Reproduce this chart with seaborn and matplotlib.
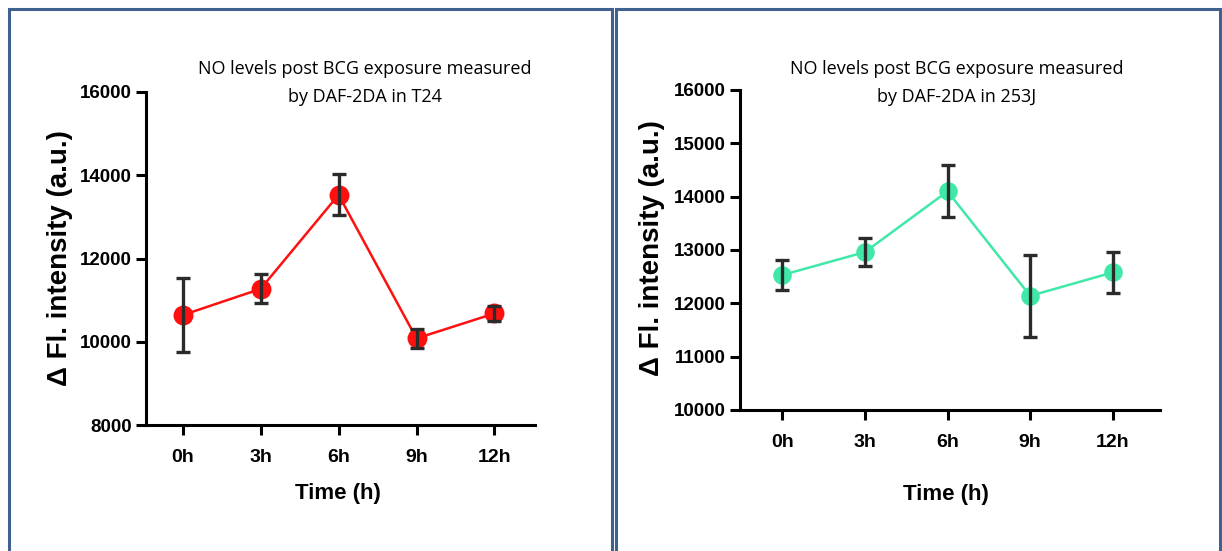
import matplotlib
matplotlib.use("Agg")
import matplotlib.pyplot as plt
from matplotlib.patches import Rectangle
import seaborn as sns

# === data ===
times = ["0h", "3h", "6h", "9h", "12h"]
t24_mean = [10640, 11270, 13530, 10080, 10680]
t24_err = [880, 350, 490, 225, 170]
j253_mean = [12530, 12960, 14100, 12140, 12580]
j253_err = [280, 265, 490, 770, 385]

sns.set_theme(style="ticks")
plt.rcParams['font.family'] = ['Liberation Sans', 'DejaVu Sans']
plt.rcParams['text.color'] = 'black'
plt.rcParams['xtick.color'] = 'black'
plt.rcParams['ytick.color'] = 'black'
plt.rcParams['axes.labelcolor'] = 'black'

fig = plt.figure(figsize=(12.22, 5.51), dpi=100)

# panel borders
border = "#40608f"
fig.patches.append(Rectangle((9 / 1222, -0.05), 603 / 1222, 1.05 - 9 / 551,
                             transform=fig.transFigure, fill=False,
                             edgecolor=border, linewidth=2.2))
fig.patches.append(Rectangle((616 / 1222, -0.05), 604 / 1222, 1.05 - 9 / 551,
                             transform=fig.transFigure, fill=False,
                             edgecolor=border, linewidth=2.2))


def panel(rect, means, errs, color, ylim, yticks, xlim, title, cx, msize, ylab_xy, xlab_xy):
    ax = fig.add_axes(rect)
    sns.pointplot(x=times, y=means, color=color, errorbar=None, ax=ax,
                  markers="o", markersize=msize, linewidth=1.8)
    ax.errorbar(range(len(times)), means, yerr=errs, fmt="none",
                ecolor="#2b2b2b", elinewidth=2.4, capsize=5, capthick=2.4, zorder=5)
    ax.set_ylim(*ylim)
    ax.set_yticks(yticks)
    ax.set_xlim(*xlim)
    sns.despine(ax=ax)
    for s in ["left", "bottom"]:
        ax.spines[s].set_linewidth(2.2)
        ax.spines[s].set_color("black")
    ax.tick_params(length=7, width=2.2, color="black", labelsize=13.5, pad=3)
    ax.tick_params(axis="x", pad=10, labelsize=14)
    for lab in ax.get_xticklabels() + ax.get_yticklabels():
        lab.set_fontweight("bold")
    ax.set_xlabel("Time (h)", fontsize=16, fontweight="bold")
    ax.set_ylabel("\u0394 Fl. intensity (a.u.)", fontsize=20, fontweight="bold")
    ax.yaxis.set_label_coords(*ylab_xy)
    ax.xaxis.set_label_coords(*xlab_xy)
    fig.text(cx, 1 - 83 / 551, title, ha="center", va="center", fontsize=13,
             family=["Open Sans", "DejaVu Sans"], linespacing=1.7)
    return ax


panel([146 / 1222, 1 - 425 / 551, 389 / 1222, 333 / 551], t24_mean, t24_err,
      "#ff1010", (8000, 16000), [8000, 10000, 12000, 14000, 16000], (-0.47, 4.52),
      "NO levels post BCG exposure measured\nby DAF-2DA in T24", 365 / 1222, 13,
      (-0.188, 0.50), (0.494, -0.174))
panel([740 / 1222, 1 - 410 / 551, 420 / 1222, 320 / 551], j253_mean, j253_err,
      "#40e8a8", (10000, 16000), [10000, 11000, 12000, 13000, 14000, 15000, 16000],
      (-0.51, 4.57),
      "NO levels post BCG exposure measured\nby DAF-2DA in 253J", 957 / 1222, 12,
      (-0.179, 0.506), (0.49, -0.231))

fig.savefig("out.png", dpi=100, facecolor="white")
